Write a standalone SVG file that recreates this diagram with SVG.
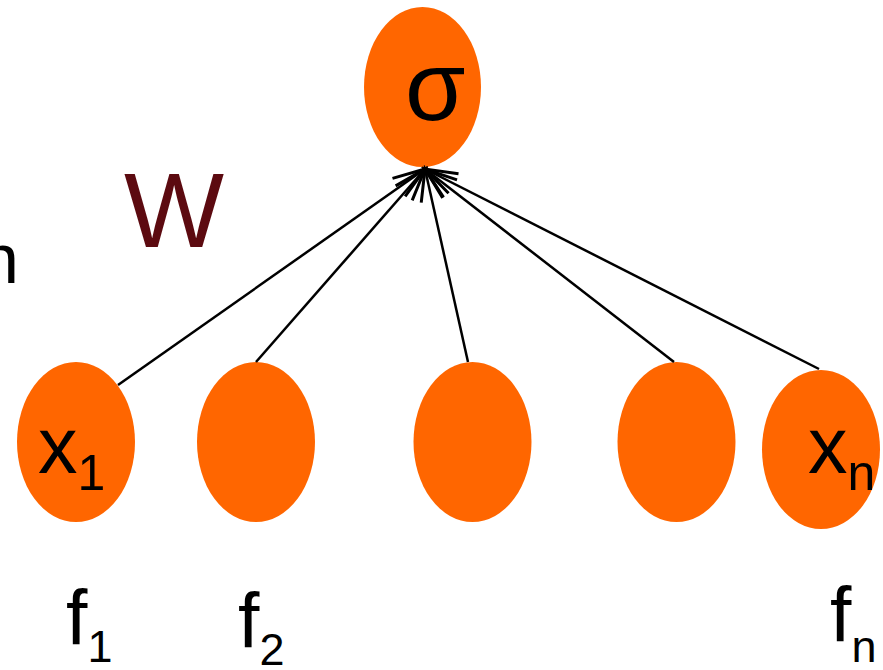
<svg xmlns="http://www.w3.org/2000/svg" width="883" height="670" viewBox="0 0 883 670">
<style>
.node{fill:#FF6600}
.t{font-family:"Liberation Sans",Arial,sans-serif;fill:#000}
.conn line{stroke:#000;stroke-width:2.5;marker-end:url(#arr)}
</style>
<defs>
<marker id="arr" markerUnits="userSpaceOnUse" viewBox="-36 -16 40 32" markerWidth="40" markerHeight="32" refX="0" refY="0" orient="auto">
<path d="M-32,-11 L0,0 L-32,11" fill="none" stroke="#000" stroke-width="3"/>
</marker>
</defs>
<rect width="883" height="670" fill="#fff"/>
<text class="t" x="19" y="283" font-size="70" text-anchor="end">n</text>
<text x="124" y="247" font-family="Liberation Sans,Arial,sans-serif" font-size="106" fill="#5C0A10">W</text>
<g id="sigma">
<ellipse class="node" cx="422.5" cy="87" rx="58.5" ry="80"/>
<text class="t" x="405" y="120" font-size="98">σ</text>
</g>
<g id="x1">
<ellipse class="node" cx="76" cy="442" rx="59" ry="80"/>
<text class="t" x="38" y="473" font-size="79">x<tspan font-size="50" dy="17">1</tspan></text>
</g>
<g id="x2">
<ellipse class="node" cx="256" cy="442" rx="59" ry="80"/>
</g>
<g id="x3">
<ellipse class="node" cx="472.5" cy="442" rx="59" ry="80"/>
</g>
<g id="x4">
<ellipse class="node" cx="676.5" cy="442" rx="59" ry="80"/>
</g>
<g id="xn">
<ellipse class="node" cx="821" cy="449.5" rx="59" ry="79.5"/>
<text class="t" x="808" y="473" font-size="79">x<tspan font-size="50" dy="17">n</tspan></text>
</g>
<g class="conn">
<line x1="118" y1="385" x2="425" y2="169"/>
<line x1="256" y1="362" x2="425" y2="169"/>
<line x1="468" y1="362" x2="425" y2="169"/>
<line x1="674" y1="362" x2="425" y2="169"/>
<line x1="819" y1="369" x2="425" y2="169"/>
</g>
<g id="labels">
<text class="t" x="66" y="645" font-size="77">f<tspan font-size="45" dy="17">1</tspan></text>
<text class="t" x="238" y="648" font-size="77">f<tspan font-size="45" dy="17">2</tspan></text>
<text class="t" x="830" y="642" font-size="77">f<tspan font-size="45" dy="20">n</tspan></text>
</g>
</svg>
